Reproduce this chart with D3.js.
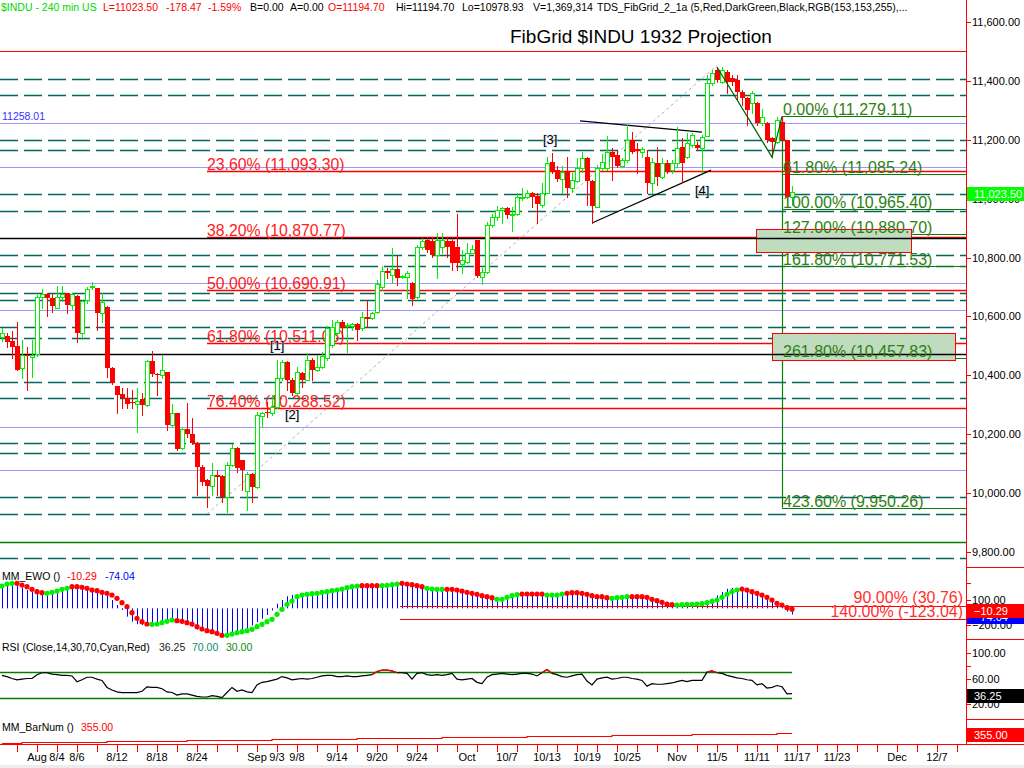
<!DOCTYPE html>
<html>
<head>
<meta charset="utf-8">
<script src="https://cdn.jsdelivr.net/npm/d3@7"></script>
<style>
  body { margin: 0; background: #fff; }
  svg { display: block; font-family: Arial, "Liberation Sans", sans-serif; }
</style>
</head>
<body>
<svg id="chart" width="1024" height="768"></svg>
<script>
// ---------- price bars (240 min, $INDU), one entry per bar ----------
var opens = [10530,10535,10515,10500,10425,10468,10462,10470,10665,10676,
  10662,10628,10666,10679,10638,10669,10544,10655,10699,10696,
  10611,10632,10425,10364,10336,10323,10308,10302,10319,10299,
  10448,10403,10401,10411,10231,10272,10152,10217,10200,10170,
  10088,10044,10024,10061,10058,9986,10095,10153,10112,10007,
  10065,10020,10262,10274,10272,10292,10391,10445,10384,10340,
  10408,10384,10452,10418,10428,10459,10503,10543,10581,10565,
  10567,10574,10560,10598,10594,10615,10700,10754,10740,10761,
  10734,10734,10713,10666,10836,10859,10856,10808,10836,10856,
  10856,10836,10778,10785,10815,10859,10734,10751,10910,10938,
  10961,10968,10944,10948,11003,11005,11019,11009,10978,11019,
  11124,11097,11067,11090,11036,11060,11104,11138,11060,10972,
  11104,11104,11158,11148,11111,11131,11199,11169,11158,11141,
  11053,11121,11073,11121,11097,11121,11175,11141,11182,11182,
  11172,11213,11393,11437,11396,11430,11410,11403,11362,11342,
  11325,11325,11257,11257,11206,11192,11260,11199,11005];
var highs = [10560,10545,10550,10580,10520,10495,10520,10672,10693,10680,
  10680,10703,10703,10680,10678,10672,10655,10700,10717,10698,
  10679,10635,10428,10365,10357,10357,10350,10357,10340,10452,
  10482,10408,10469,10412,10302,10273,10220,10305,10255,10172,
  10095,10046,10102,10078,10060,10105,10166,10155,10113,10071,
  10067,10275,10275,10309,10333,10452,10452,10447,10391,10428,
  10411,10476,10459,10469,10479,10567,10588,10588,10588,10577,
  10577,10577,10615,10656,10615,10724,10771,10764,10832,10805,
  10741,10754,10717,10842,10866,10870,10870,10883,10883,10866,
  10866,10947,10825,10849,10842,10860,10764,10921,10948,10975,
  10972,10972,10972,11019,11036,11029,11022,11019,11053,11141,
  11155,11111,11111,11141,11087,11138,11158,11140,11062,11114,
  11150,11213,11172,11162,11138,11250,11226,11189,11175,11165,
  11138,11175,11138,11131,11131,11243,11206,11223,11223,11192,
  11216,11420,11437,11447,11447,11437,11420,11420,11369,11345,
  11366,11328,11304,11260,11209,11277,11279,11200,11043];
var lows = [10515,10495,10460,10418,10390,10350,10395,10465,10628,10600,
  10615,10628,10652,10611,10625,10513,10523,10645,10693,10554,
  10581,10394,10370,10272,10289,10289,10289,10207,10265,10296,
  10397,10333,10391,10214,10224,10146,10150,10190,10168,9993,
  10027,9952,9993,9993,9969,9935,10093,10071,10010,9942,
  9969,10018,10228,10258,10265,10290,10384,10350,10333,10333,
  10360,10383,10384,10416,10426,10452,10496,10537,10530,10479,
  10554,10520,10555,10564,10591,10611,10690,10730,10713,10706,
  10731,10662,10639,10662,10829,10819,10802,10730,10815,10802,
  10757,10757,10747,10781,10815,10734,10710,10747,10904,10927,
  10917,10934,10890,10944,10995,11002,10972,10917,10972,11019,
  11087,11060,11019,11006,11022,11056,11090,10978,10917,10970,
  11097,11097,11063,11107,11107,11124,11155,11087,11141,11019,
  11019,11046,11070,11087,11087,11107,11056,11138,11175,11165,
  11090,11213,11386,11396,11393,11359,11386,11335,11318,11250,
  11291,11250,11250,11192,11141,11189,11192,10985,10979];
var closes = [10545,10515,10495,10420,10470,10463,10470,10665,10676,10662,
  10635,10666,10676,10638,10676,10544,10652,10693,10703,10611,
  10649,10425,10374,10333,10323,10302,10304,10313,10299,10448,
  10404,10399,10418,10231,10272,10149,10217,10200,10170,10088,
  10037,10024,10061,10054,9986,10095,10153,10085,10078,10065,
  10020,10265,10272,10270,10292,10391,10445,10384,10340,10411,
  10384,10452,10418,10428,10465,10561,10564,10581,10560,10570,
  10574,10554,10597,10591,10611,10710,10754,10747,10761,10730,
  10737,10747,10659,10836,10856,10825,10808,10859,10859,10836,
  10781,10781,10791,10815,10829,10737,10751,10910,10938,10961,
  10968,10944,10948,11005,11006,11019,11005,10982,11019,11121,
  11090,11067,11090,11036,11063,11104,11138,11060,10975,11104,
  11124,11158,11141,11111,11131,11199,11158,11162,11169,11053,
  11124,11073,11121,11090,11121,11172,11121,11189,11216,11172,
  11209,11393,11427,11403,11437,11396,11396,11362,11342,11301,
  11359,11257,11277,11199,11192,11267,11199,11005,11023.5];

// ---------- indicators ----------
var ewoDots = [268,292,300,300,280,260,228,200,188,
  180,192,208,228,240,260,260,252,240,220,212,192,
  180,160,120,68,20,-52,-120,-160,-188,-192,
  -188,-172,-156,-140,-148,-156,-172,-188,-220,-248,
  -268,-280,-300,-324,-324,-308,-292,-280,-268,-252,
  -220,-192,-160,-132,-72,-12,48,88,140,160,
  168,176,180,192,200,212,220,232,248,260,
  268,272,272,272,272,272,276,284,292,300,
  292,284,272,260,240,232,228,228,228,228,
  220,208,192,180,168,152,140,128,108,
  108,132,152,164,172,172,172,172,172,160,160,
  160,172,180,188,188,180,168,152,140,140,
  128,120,128,132,140,140,140,140,132,108,
  92,72,52,44,40,44,48,48,52,56,
  68,84,100,132,168,200,220,232,220,200,
  180,160,132,100,60,40,8,-10.29];
var ewoBars = [250,270,280,270,250,220,195,180,175,
  185,200,220,235,245,245,240,230,220,205,190,175,
  150,100,40,-20,-100,-160,-190,-200,-195,-185,
  -170,-150,-135,-140,-160,-180,-200,-220,-255,-265,
  -280,-300,-318,-330,-322,-305,-285,-265,-240,-205,
  -165,-125,-80,-25,55,100,145,160,160,165,
  170,175,185,195,210,220,235,245,255,262,
  265,268,268,270,272,280,290,295,295,285,
  275,260,250,240,230,225,222,222,218,212,
  200,188,175,162,150,138,126,115,108,
  125,145,160,168,170,170,168,165,160,155,158,
  162,172,180,185,185,178,160,145,138,135,
  125,120,125,132,138,138,135,128,118,100,
  80,62,48,38,35,38,42,46,50,55,
  80,115,155,195,235,245,240,228,212,195,
  172,148,118,88,55,15,-40,-74.04];
// dot colour runs: [count, G|R]
var ewoColorRuns = [[3,"G"],[6,"R"],[5,"G"],[16,"R"],[5,"G"],[10,"R"],[27,"G"],[4,"R"],
  [4,"G"],[5,"R"],[4,"G"],[10,"R"],[5,"G"],[5,"R"],[4,"G"],[9,"R"],[4,"G"],[9,"R"],[13,"G"],[11,"R"]];
var ewoLevels = [["90.00% (30.76)", 30.76], ["140.00% (-123.04)", -123.04]];

var rsi = [65,63,60,58,59,60,60,66,69,69,
  67,66,65,65,64,55,58,62,62,59,
  57,46,42,39,38,38,38,38,40,47,
  46,46,44,39,38,34,36,36,34,32,
  31,31,33,32,30,38,46,40,42,39,
  38,50,54,55,57,59,63,61,58,59,
  60,59,60,62,64,65,65,63,63,64,
  63,63,64,65,66,71,73,73,72,69,
  69,68,59,68,69,66,65,66,65,66,
  68,59,58,59,60,54,52,62,66,67,
  68,67,66,67,68,68,67,64,69,74,
  68,66,63,62,64,66,67,56,50,59,
  61,62,59,60,62,62,60,59,57,48,
  52,51,51,52,53,55,57,55,57,57,
  57,70,72,69,68,65,63,61,60,58,
  57,50,52,45,46,49,47,36,36.25];

var barNumFirst = 197, barNumLast = 355;

// ---------- horizontal grid / fib levels (price) ----------
var dashedLevels = [11408, 11352, 11199, 11165, 11015, 10958, 10808, 10771, 10679, 10656,
  10565, 10526, 10376, 10322, 10171, 10135, 9985, 9928, 9778];
var blueLevels = [11258.01, 11106.5, 10712, 10622, 10225, 10078];
var blackLevels = [10866, 10473];
var redFullLevels = [11501];
var greenFullLevels = [9832];

var retraceLabels = ["23.60% (11,093.30)", "38.20% (10,870.77)", "50.00% (10,690.91)", "61.80% (10,511.06)", "76.40% (10,288.52)"];
var retraceValues = [11093.30, 10870.77, 10690.91, 10511.06, 10288.52];
var retraceStartBar = 41;

var extLabels = ["0.00% (11,279.11)", "61.80% (11,085.24)", "100.00% (10,965.40)", "127.00% (10,880.70)",
  "161.80% (10,771.53)", "261.80% (10,457.83)", "423.60% (9,950.26)"];
var extValues = [11279.11, 11085.24, 10965.40, 10880.70, 10771.53, 10457.83, 9950.26];
var extStartBar = 156;

// target zones: [bar from, bar to, price top, price bottom]
var zones = [[150.8, 181.8, 10898, 10821], [153.9, 190.6, 10543, 10450]];

// drawn lines: [bar, price] pairs
var swingLine = [[41, 9928.8], [143, 11453]];
var upperTrend = [[115.6, 11264], [140, 11226]];
var lowerTrend = [[118, 10917], [141.8, 11097]];
var zigzag = [[143, 11447], [154, 11141], [156, 11279.11]];
var waveLabels = [["[1]", 53.6, 10486], ["[2]", 56.6, 10251], ["[3]", 108.2, 11186], ["[4]", 138.6, 11012]];

// ---------- x axis ----------
var dateLabels = [["Aug", 7], ["8/4", 11], ["8/6", 15], ["8/12", 23], ["8/18", 31], ["8/24", 39],
  ["Sep", 51], ["9/3", 55], ["9/8", 59], ["9/14", 67], ["9/20", 75], ["9/24", 83],
  ["Oct", 93], ["10/7", 101], ["10/13", 109], ["10/19", 117], ["10/25", 125],
  ["Nov", 135], ["11/5", 143], ["11/11", 151], ["11/17", 159], ["11/23", 167], ["Dec", 179], ["12/7", 187]];
var priceTicks = [9800, 10000, 10200, 10400, 10600, 10800, 11000, 11200, 11400, 11600];

var header = [["$INDU - 240 min  US", 1, "#00d800"], ["L=11023.50", 103, "#ff0000"], ["-178.47", 166, "#ff0000"],
  ["-1.59%", 208, "#ff0000"], ["B=0.00", 250, "#000"], ["A=0.00", 290, "#000"], ["O=11194.70", 328, "#ff0000"],
  ["Hi=11194.70", 396, "#000"], ["Lo=10978.93", 462, "#000"], ["V=1,369,314", 533, "#000"],
  ["TDS_FibGrid_2_1a (5,Red,DarkGreen,Black,RGB(153,153,255),...", 597, "#000"]];

// ---------- setup ----------
var svg = d3.select("#chart");
var PR = 966;          // right edge of the plotting area
var nBars = closes.length;

var x = d3.scaleLinear().domain([0, nBars - 1]).range([2, 792]);
var y = d3.scaleLinear().domain([9800, 11600]).range([551.9, 22]);
var yE = d3.scaleLinear().domain([-200, 100]).range([625, 600]);
var yR = d3.scaleLinear().domain([20, 100]).range([704, 653]);
var yB = d3.scaleLinear().domain([barNumFirst, barNumLast]).range([742.7, 733.3]);

function px(v) { return Math.round(v) + 0.5; }

var RED = "#ff0000", LIME = "#00ee00", DGREEN = "#0a7d0a";

svg.append("defs").append("clipPath").attr("id", "mainClip")
  .append("rect").attr("x", 0).attr("y", 0).attr("width", PR).attr("height", 566);

var main = svg.append("g").attr("clip-path", "url(#mainClip)");

function hline(g, v, x1, x2, color, width, dash) {
  g.append("line")
    .attr("x1", x1).attr("x2", x2)
    .attr("y1", px(y(v))).attr("y2", px(y(v)))
    .attr("stroke", color).attr("stroke-width", width)
    .attr("stroke-dasharray", dash || null);
}

// grid levels
dashedLevels.forEach(function(v) { hline(main, v, 0, PR, "#00665e", 1.6, "18,6"); });
blueLevels.forEach(function(v) { hline(main, v, 0, PR, "#9999ff", 1); });
redFullLevels.forEach(function(v) { hline(main, v, 0, PR, RED, 1.2); });
greenFullLevels.forEach(function(v) { hline(main, v, 0, PR, "#008000", 1.4); });

main.append("text").attr("x", 2).attr("y", px(y(blueLevels[0])) - 4)
  .attr("font-size", 10.5).attr("fill", "#3333ff").text("11258.01");

// retracement grid (red)
retraceValues.forEach(function(v) { hline(main, v, x(retraceStartBar), PR, RED, 1.4); });

// extension lines (green)
extValues.forEach(function(v) { hline(main, v, x(extStartBar), PR, DGREEN, 1.2); });
main.append("line")
  .attr("x1", px(x(extStartBar))).attr("x2", px(x(extStartBar)))
  .attr("y1", y(extValues[0])).attr("y2", y(extValues[extValues.length - 1]))
  .attr("stroke", DGREEN).attr("stroke-width", 1.2);

// target zones
zones.forEach(function(z) {
  main.append("rect")
    .attr("x", px(x(z[0]))).attr("y", px(y(z[2])))
    .attr("width", Math.round(x(z[1]) - x(z[0]))).attr("height", Math.round(y(z[3]) - y(z[2])))
    .attr("fill", "#bfdcbf").attr("stroke", RED).attr("stroke-width", 1);
});

blackLevels.forEach(function(v) { hline(main, v, 0, PR, "#000", 1.6); });

// retracement labels
retraceValues.forEach(function(v, k) {
  main.append("text").attr("x", x(retraceStartBar)).attr("y", px(y(v)) - 2)
    .attr("font-size", 15.8).attr("fill", "#ff2020").text(retraceLabels[k]);
});

// swing line and trend lines
var line = d3.line().x(function(d) { return x(d[0]); }).y(function(d) { return y(d[1]); });
main.append("path").attr("d", line(swingLine)).attr("fill", "none")
  .attr("stroke", "#b0b0b0").attr("stroke-width", 1).attr("stroke-dasharray", "3,3");
main.append("path").attr("d", line(upperTrend)).attr("fill", "none").attr("stroke", "#000").attr("stroke-width", 1.2);
main.append("path").attr("d", line(lowerTrend)).attr("fill", "none").attr("stroke", "#000").attr("stroke-width", 1.2);

// candles
var bars = d3.range(nBars);
main.selectAll(".wick").data(bars).enter().append("line")
  .attr("class", "wick")
  .attr("x1", function(i) { return px(x(i)); }).attr("x2", function(i) { return px(x(i)); })
  .attr("y1", function(i) { return Math.round(y(highs[i])); })
  .attr("y2", function(i) { return Math.round(y(lows[i])) + 1; })
  .attr("stroke", function(i) { return closes[i] >= opens[i] ? LIME : RED; })
  .attr("stroke-width", 1);

main.selectAll(".body").data(bars).enter().append("rect")
  .attr("class", "body")
  .attr("x", function(i) { return closes[i] >= opens[i] ? Math.round(x(i)) - 1.5 : Math.round(x(i)) - 2; })
  .attr("y", function(i) {
    var top = y(Math.max(opens[i], closes[i]));
    return closes[i] >= opens[i] ? Math.round(top) + 0.5 : Math.round(top);
  })
  .attr("width", function(i) { return closes[i] >= opens[i] ? 4 : 5; })
  .attr("height", function(i) { return Math.max(1, Math.round(Math.abs(y(opens[i]) - y(closes[i])))); })
  .attr("fill", function(i) { return closes[i] >= opens[i] ? "#fff" : RED; })
  .attr("stroke", function(i) { return closes[i] >= opens[i] ? LIME : "none"; })
  .attr("stroke-width", 1);

main.append("path").attr("d", line(zigzag)).attr("fill", "none").attr("stroke", "#006400").attr("stroke-width", 1.2);

// extension labels
extValues.forEach(function(v, k) {
  main.append("text").attr("x", x(extStartBar) + 1).attr("y", px(y(v)) - 2)
    .attr("font-size", 16).attr("fill", "#2f7f12").text(extLabels[k]);
});

// wave labels
waveLabels.forEach(function(w) {
  main.append("text").attr("x", x(w[1])).attr("y", y(w[2]))
    .attr("font-size", 13).attr("fill", "#000")
    .attr("stroke", "#d6e2f6").attr("stroke-width", 1).attr("paint-order", "stroke")
    .text(w[0]);
});

// title and header
svg.append("text").attr("x", 510).attr("y", 43).attr("font-size", 19).attr("fill", "#000")
  .text("FibGrid $INDU 1932 Projection");
header.forEach(function(h) {
  svg.append("text").attr("x", h[1]).attr("y", 11).attr("font-size", 10.5).attr("fill", h[2]).text(h[0]);
});

// ---------- EWO panel ----------
var ewoColors = [];
ewoColorRuns.forEach(function(r) { for (var k = 0; k < r[0]; k++) ewoColors.push(r[1]); });

svg.append("g").selectAll("line").data(bars).enter().append("line")
  .attr("x1", function(i) { return px(x(i)); }).attr("x2", function(i) { return px(x(i)); })
  .attr("y1", yE(0)).attr("y2", function(i) { return yE(ewoBars[i]); })
  .attr("stroke", "#0000ff").attr("stroke-width", 1);

ewoLevels.forEach(function(l) {
  svg.append("line").attr("x1", x(79.6)).attr("x2", PR)
    .attr("y1", px(yE(l[1]))).attr("y2", px(yE(l[1])))
    .attr("stroke", RED).attr("stroke-width", 1.2);
});

svg.append("g").selectAll("circle").data(bars).enter().append("circle")
  .attr("cx", function(i) { return x(i); }).attr("cy", function(i) { return yE(ewoDots[i]); })
  .attr("r", 2.6)
  .attr("fill", function(i) { return ewoColors[i] === "G" ? "#00ee00" : "#ff0000"; });

svg.append("text").attr("x", PR - 3).attr("y", 603).attr("text-anchor", "end")
  .attr("font-size", 16).attr("fill", "#ff3030").text(ewoLevels[0][0]);
svg.append("text").attr("x", PR - 3).attr("y", 617).attr("text-anchor", "end")
  .attr("font-size", 16).attr("fill", "#ff3030").text(ewoLevels[1][0]);

var ewoTitle = svg.append("text").attr("x", 2).attr("y", 580).attr("font-size", 10.5);
ewoTitle.append("tspan").attr("fill", "#000").text("MM_EWO ()");
ewoTitle.append("tspan").attr("x", 67).attr("fill", RED).text("-10.29");
ewoTitle.append("tspan").attr("x", 105).attr("fill", "#0000ff").text("-74.04");

// ---------- RSI panel ----------
[70, 30].forEach(function(v) {
  svg.append("line").attr("x1", 0).attr("x2", x(nBars - 1))
    .attr("y1", px(yR(v))).attr("y2", px(yR(v)))
    .attr("stroke", "#008000").attr("stroke-width", 1.4);
});
var rsiLine = d3.line().x(function(i) { return x(i); }).y(function(i) { return yR(rsi[i]); });
svg.append("path").attr("d", rsiLine(bars)).attr("fill", "none").attr("stroke", "#000").attr("stroke-width", 1.2);
// overbought pieces in red
bars.slice(1).forEach(function(i) {
  if (rsi[i] > 70 || rsi[i - 1] > 70) {
    svg.append("path").attr("d", rsiLine([i - 1, i])).attr("fill", "none").attr("stroke", RED).attr("stroke-width", 1.2);
  }
});
var rsiTitle = svg.append("text").attr("x", 2).attr("y", 651).attr("font-size", 10.5);
rsiTitle.append("tspan").attr("fill", "#000").text("RSI (Close,14,30,70,Cyan,Red)");
rsiTitle.append("tspan").attr("x", 159).attr("fill", "#222").text("36.25");
rsiTitle.append("tspan").attr("x", 192).attr("fill", "#108a70").text("70.00");
rsiTitle.append("tspan").attr("x", 226).attr("fill", "#108a10").text("30.00");

// ---------- BarNum panel ----------
var barNums = d3.range(barNumFirst, barNumLast + 1);
var bnLine = d3.line().x(function(i) { return x(i); }).y(function(i) { return px(yB(barNums[i])); })
  .curve(d3.curveStepAfter);
svg.append("path").attr("d", bnLine(bars)).attr("fill", "none").attr("stroke", RED).attr("stroke-width", 1.2);
var bnTitle = svg.append("text").attr("x", 2).attr("y", 731).attr("font-size", 10.5);
bnTitle.append("tspan").attr("fill", "#000").text("MM_BarNum ()");
bnTitle.append("tspan").attr("x", 81).attr("fill", RED).text("355.00");

// ---------- axes ----------
svg.append("line").attr("x1", PR + 0.5).attr("x2", PR + 0.5).attr("y1", 0).attr("y2", 744)
  .attr("stroke", RED).attr("stroke-width", 1);
[567, 639, 719].forEach(function(yy) {
  svg.append("line").attr("x1", PR).attr("x2", 1024).attr("y1", yy + 0.5).attr("y2", yy + 0.5)
    .attr("stroke", RED).attr("stroke-width", 1);
});
svg.append("line").attr("x1", 0).attr("x2", 1024).attr("y1", 744.5).attr("y2", 744.5)
  .attr("stroke", RED).attr("stroke-width", 1);

var fmt = d3.format(",.2f");
function rightTick(yy, label) {
  svg.append("line").attr("x1", PR).attr("x2", PR + 5).attr("y1", px(yy)).attr("y2", px(yy))
    .attr("stroke", RED).attr("stroke-width", 1);
  if (label) {
    svg.append("text").attr("x", PR + 6).attr("y", yy + 4).attr("font-size", 11).attr("fill", "#000").text(label);
  }
}
priceTicks.forEach(function(v) { rightTick(y(v), fmt(v)); });
[300, 100, -200].forEach(function(v) { rightTick(yE(v), v === 300 ? null : fmt(v)); });
[100, 80, 60, 20].forEach(function(v) { rightTick(yR(v), v === 80 ? null : fmt(v)); });

function valueBox(yy, label, bg, fg) {
  svg.append("rect").attr("x", PR + 1).attr("y", Math.round(yy) - 5).attr("width", 1024 - PR).attr("height", 14).attr("fill", bg);
  svg.append("text").attr("x", PR + 8).attr("y", Math.round(yy) + 6).attr("font-size", 11).attr("fill", fg).text(label);
}
valueBox(y(closes[nBars - 1]), fmt(closes[nBars - 1]), "#00ff00", "#fff");
valueBox(yE(ewoBars[nBars - 1]), fmt(ewoBars[nBars - 1]), "#0000ff", "#fff");
valueBox(yE(ewoDots[nBars - 1]), fmt(ewoDots[nBars - 1]), RED, "#fff");
valueBox(yR(rsi[nBars - 1]), fmt(rsi[nBars - 1]), "#000", "#fff");
valueBox(yB(barNumLast), fmt(barNumLast), RED, "#fff");

// date ticks every 4 bars and labels
d3.range(3, 192, 4).forEach(function(i) {
  if (x(i) < PR) {
    svg.append("line").attr("x1", px(x(i))).attr("x2", px(x(i))).attr("y1", 744).attr("y2", 752)
      .attr("stroke", RED).attr("stroke-width", 1);
  }
});
dateLabels.forEach(function(d) {
  svg.append("text").attr("x", x(d[1])).attr("y", 761).attr("text-anchor", "middle")
    .attr("font-size", 11).attr("fill", "#000").text(d[0]);
});

svg.append("rect").attr("x", 0).attr("y", 765).attr("width", 1024).attr("height", 3).attr("fill", "#ececec");
</script>
</body>
</html>
